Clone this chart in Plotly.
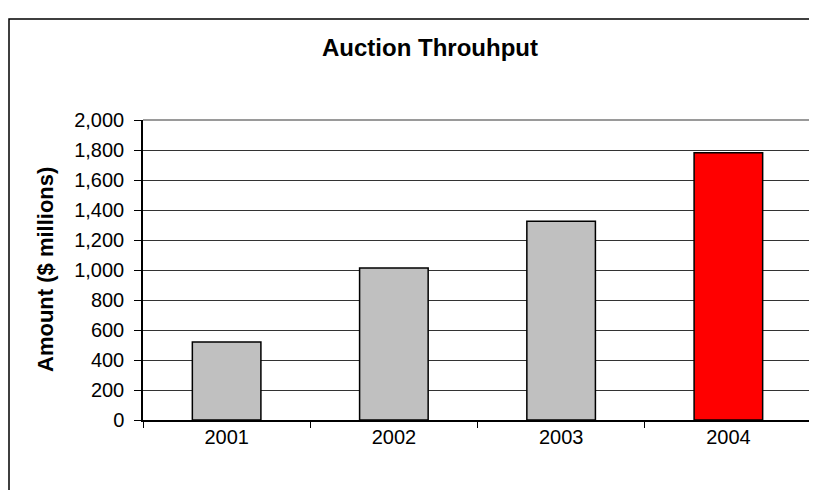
import plotly.graph_objects as go

years = ["2001", "2002", "2003", "2004"]
amounts = [520, 1013, 1325, 1782]
bar_colors = ["#C0C0C0", "#C0C0C0", "#C0C0C0", "#FF0000"]
y_ticks = list(range(0, 2001, 200))

# page has 8px body margin; work in reference page pixels and shift
OFF = 8
W, H = 817 - OFF, 490 - OFF
L, T = 143 - OFF, 120 - OFF
R = W - (812 - OFF)
B = H - (420 - OFF)
pw = W - L - R
ph = H - T - B

def px_x(p):
    return (p - OFF - L) / pw

def px_y(p):
    return (H - B - (p - OFF)) / ph

fig = go.Figure(go.Bar(
    x=years, y=amounts,
    marker=dict(color=bar_colors, line=dict(color="black", width=1.5)),
    width=0.41,
))

font = "Liberation Sans, Arial, sans-serif"

fig.update_layout(
    width=W, height=H,
    margin=dict(l=L, r=R, t=T, b=B),
    paper_bgcolor="white", plot_bgcolor="white",
    showlegend=False,
    font=dict(family=font, size=20, color="black"),
    title=dict(text="<b>Auction Throuhput</b>", x=(430 - OFF) / W, xanchor="center",
               y=1 - (48 - OFF) / H, yanchor="middle", font=dict(size=24, family=font)),
    xaxis=dict(type="category", tickson="boundaries", ticks="outside", ticklen=6,
               tickcolor="black", showline=True, linecolor="black", linewidth=1.5,
               showgrid=False, tickfont=dict(size=20), ticklabelstandoff=-2),
    yaxis=dict(range=[0, 2000], tickvals=y_ticks, tickformat=",", ticks="outside",
               ticklen=7, tickcolor="black", showline=True, linecolor="black",
               linewidth=1.5, showgrid=True, gridcolor="#333333", gridwidth=1,
               zeroline=False, tickfont=dict(size=20), ticklabelstandoff=6),
    shapes=[
        dict(type="line", xref="paper", yref="paper", x0=0, x1=1, y0=1, y1=1,
             line=dict(color="#9a9a9a", width=2)),
        dict(type="line", xref="paper", yref="paper", x0=1, x1=1, y0=0, y1=1,
             line=dict(color="#9a9a9a", width=2)),
        dict(type="rect", xref="paper", yref="paper", x0=px_x(9), x1=px_x(840),
             y0=px_y(520), y1=px_y(19), line=dict(color="black", width=1.5),
             fillcolor="rgba(0,0,0,0)", layer="below"),
    ],
    annotations=[
        dict(text="<b>Amount ($ millions)</b>", xref="paper", yref="paper",
             x=px_x(45), y=px_y(270), textangle=-90, showarrow=False,
             xanchor="center", yanchor="middle", font=dict(size=22, family=font)),
    ],
)

fig.write_html("out.html")
